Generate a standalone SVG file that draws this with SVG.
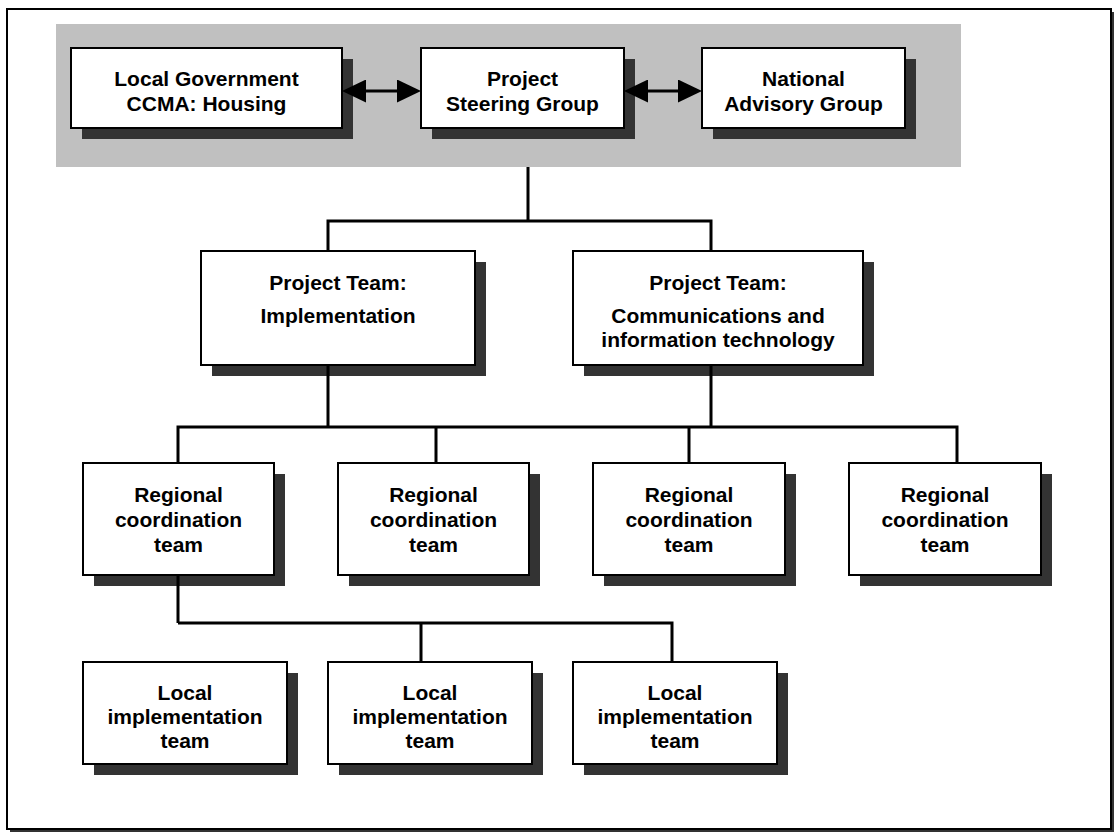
<svg xmlns="http://www.w3.org/2000/svg" width="1114" height="832" viewBox="0 0 1114 832">
  <style>
    .box { fill: #ffffff; stroke: #000000; stroke-width: 2; }
    .shadow { fill: #333333; }
    .lbl { font-family: "Liberation Sans", Arial, sans-serif; font-weight: bold; font-size: 21px; fill: #000000; text-anchor: middle; }
    .conn { fill: none; stroke: #000000; stroke-width: 3; }
  </style>
  <defs>
    <marker id="ah" viewBox="0 0 24 23" markerWidth="24" markerHeight="23" refX="4" refY="11.5" orient="auto-start-reverse" markerUnits="userSpaceOnUse">
      <path d="M0,0 L24,11.5 L0,23 Z" fill="#000000"/>
    </marker>
  </defs>

  <!-- frame -->
  <g id="frame">
    <rect x="10" y="12" width="1104" height="820" fill="#333333"/>
    <rect x="7" y="9" width="1104" height="820" fill="#ffffff" stroke="#000000" stroke-width="2"/>
  </g>

  <!-- top band -->
  <rect id="band" x="56" y="24" width="905" height="143" fill="#c0c0c0"/>

  <g id="localgov">
    <rect class="shadow" x="82" y="59" width="271" height="80"/>
    <rect class="box" x="71" y="48" width="271" height="80"/>
    <text class="lbl" x="206.5" y="86">Local Government</text>
    <text class="lbl" x="206.5" y="111">CCMA: Housing</text>
  </g>
  <g id="steering">
    <rect class="shadow" x="432" y="59" width="203" height="80"/>
    <rect class="box" x="421" y="48" width="203" height="80"/>
    <text class="lbl" x="522.5" y="86">Project</text>
    <text class="lbl" x="522.5" y="111">Steering Group</text>
  </g>
  <g id="national">
    <rect class="shadow" x="713" y="59" width="203" height="80"/>
    <rect class="box" x="702" y="48" width="203" height="80"/>
    <text class="lbl" x="803.5" y="86">National</text>
    <text class="lbl" x="803.5" y="111">Advisory Group</text>
  </g>

  <g id="pt-impl">
    <rect class="shadow" x="212" y="262" width="274" height="114"/>
    <rect class="box" x="201" y="251" width="274" height="114"/>
    <text class="lbl" x="338" y="290">Project Team:</text>
    <text class="lbl" x="338" y="323">Implementation</text>
  </g>
  <g id="pt-comms">
    <rect class="shadow" x="584" y="262" width="290" height="114"/>
    <rect class="box" x="573" y="251" width="290" height="114"/>
    <text class="lbl" x="718" y="290">Project Team:</text>
    <text class="lbl" x="718" y="323">Communications and</text>
    <text class="lbl" x="718" y="347">information technology</text>
  </g>

  <g id="reg1">
    <rect class="shadow" x="94" y="474" width="191" height="112"/>
    <rect class="box" x="83" y="463" width="191" height="112"/>
    <text class="lbl" x="178.5" y="502">Regional</text>
    <text class="lbl" x="178.5" y="527">coordination</text>
    <text class="lbl" x="178.5" y="552">team</text>
  </g>
  <g id="reg2">
    <rect class="shadow" x="349" y="474" width="191" height="112"/>
    <rect class="box" x="338" y="463" width="191" height="112"/>
    <text class="lbl" x="433.5" y="502">Regional</text>
    <text class="lbl" x="433.5" y="527">coordination</text>
    <text class="lbl" x="433.5" y="552">team</text>
  </g>
  <g id="reg3">
    <rect class="shadow" x="604" y="474" width="192" height="112"/>
    <rect class="box" x="593" y="463" width="192" height="112"/>
    <text class="lbl" x="689" y="502">Regional</text>
    <text class="lbl" x="689" y="527">coordination</text>
    <text class="lbl" x="689" y="552">team</text>
  </g>
  <g id="reg4">
    <rect class="shadow" x="860" y="474" width="192" height="112"/>
    <rect class="box" x="849" y="463" width="192" height="112"/>
    <text class="lbl" x="945" y="502">Regional</text>
    <text class="lbl" x="945" y="527">coordination</text>
    <text class="lbl" x="945" y="552">team</text>
  </g>

  <g id="loc1">
    <rect class="shadow" x="94" y="673" width="204" height="102"/>
    <rect class="box" x="83" y="662" width="204" height="102"/>
    <text class="lbl" x="185" y="700">Local</text>
    <text class="lbl" x="185" y="724">implementation</text>
    <text class="lbl" x="185" y="748">team</text>
  </g>
  <g id="loc2">
    <rect class="shadow" x="339" y="673" width="204" height="102"/>
    <rect class="box" x="328" y="662" width="204" height="102"/>
    <text class="lbl" x="430" y="700">Local</text>
    <text class="lbl" x="430" y="724">implementation</text>
    <text class="lbl" x="430" y="748">team</text>
  </g>
  <g id="loc3">
    <rect class="shadow" x="584" y="673" width="204" height="102"/>
    <rect class="box" x="573" y="662" width="204" height="102"/>
    <text class="lbl" x="675" y="700">Local</text>
    <text class="lbl" x="675" y="724">implementation</text>
    <text class="lbl" x="675" y="748">team</text>
  </g>

  <g id="connectors">
    <line class="conn" x1="362" y1="91" x2="401" y2="91" marker-start="url(#ah)" marker-end="url(#ah)"/>
    <line class="conn" x1="644" y1="91" x2="682" y2="91" marker-start="url(#ah)" marker-end="url(#ah)"/>
    <path class="conn" d="M528,167 V221 M328,221 H711 M328,219.5 V250 M711,219.5 V250"/>
    <path class="conn" d="M328,366 V427 M711,366 V427 M178,427 H957 M178,425.5 V462 M436,425.5 V462 M689,425.5 V462 M957,425.5 V462"/>
    <path class="conn" d="M178,576 V623 M178,623 H672 M421,621.5 V661 M672,621.5 V661"/>
  </g>
</svg>
